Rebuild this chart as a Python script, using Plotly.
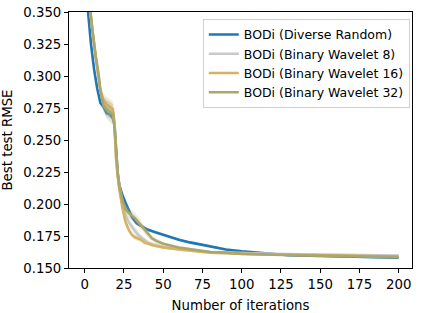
import plotly.graph_objects as go

# ---- data ----
names = ["BODi (Diverse Random)", "BODi (Binary Wavelet 8)",
         "BODi (Binary Wavelet 16)", "BODi (Binary Wavelet 32)"]

x_blue = [1, 2, 4, 6, 8, 10, 12, 14, 16, 18, 19, 20, 21, 22, 24, 26, 28, 30, 33, 36,
          40, 45, 50, 55, 60, 67, 75, 80, 90, 100, 110, 120, 130, 150, 175, 200]
y_blue = [0.370, 0.352, 0.325, 0.305, 0.290, 0.279, 0.276, 0.271, 0.270, 0.267, 0.262,
          0.240, 0.224, 0.215, 0.207, 0.201, 0.196, 0.190, 0.185, 0.183, 0.180, 0.178,
          0.176, 0.174, 0.172, 0.170, 0.168, 0.1665, 0.1645, 0.163, 0.162, 0.161, 0.160,
          0.1595, 0.159, 0.158]
e_blue = [0.006, 0.005, 0.004, 0.004, 0.003, 0.003, 0.003, 0.003, 0.003, 0.003, 0.003,
          0.003, 0.003, 0.002, 0.002, 0.002, 0.002, 0.002, 0.001, 0.001, 0.001, 0.001,
          0.001, 0.001, 0.001, 0.001, 0.001, 0.001, 0.001, 0.001, 0.001, 0.001, 0.001,
          0.001, 0.001, 0.001]

x_w = [1, 3, 5, 7, 9, 10, 12, 14, 16, 18, 19, 20, 21, 22, 24, 26, 28, 30, 32, 34, 36,
       38, 40, 43, 46, 50, 60, 70, 80, 90, 100, 120, 150, 175, 200]
y_w8 = [0.380, 0.355, 0.334, 0.314, 0.299, 0.288, 0.279, 0.276, 0.274, 0.272, 0.262,
        0.236, 0.223, 0.213, 0.200, 0.191, 0.186, 0.182, 0.179, 0.176, 0.174, 0.172,
        0.170, 0.1685, 0.1675, 0.1665, 0.165, 0.1635, 0.1625, 0.162, 0.1615, 0.161,
        0.1605, 0.160, 0.1598]
e_w8 = [0.008, 0.007, 0.006, 0.006, 0.005, 0.005, 0.005, 0.006, 0.006, 0.006, 0.006,
        0.005, 0.004, 0.004, 0.003, 0.003, 0.003, 0.003, 0.003, 0.003, 0.002, 0.002,
        0.002, 0.002, 0.001, 0.001, 0.001, 0.001, 0.001, 0.001, 0.001, 0.001, 0.001,
        0.001, 0.001]
y_w16 = [0.380, 0.355, 0.335, 0.315, 0.300, 0.289, 0.281, 0.278, 0.276, 0.274, 0.263,
         0.235, 0.222, 0.212, 0.197, 0.186, 0.180, 0.176, 0.174, 0.173, 0.172, 0.170,
         0.169, 0.168, 0.167, 0.166, 0.1645, 0.163, 0.162, 0.1615, 0.161, 0.1605,
         0.160, 0.1595, 0.159]
e_w16 = [0.008, 0.007, 0.006, 0.006, 0.005, 0.005, 0.005, 0.006, 0.006, 0.006, 0.006,
         0.005, 0.004, 0.004, 0.003, 0.003, 0.002, 0.002, 0.002, 0.002, 0.002, 0.002,
         0.001, 0.001, 0.001, 0.001, 0.001, 0.001, 0.001, 0.001, 0.001, 0.001, 0.001,
         0.001, 0.001]
y_w32 = [0.380, 0.356, 0.335, 0.316, 0.300, 0.288, 0.277, 0.274, 0.272, 0.270, 0.260,
         0.237, 0.225, 0.215, 0.203, 0.196, 0.193, 0.191, 0.189, 0.186, 0.183, 0.180,
         0.177, 0.173, 0.171, 0.169, 0.166, 0.164, 0.1625, 0.162, 0.161, 0.1603, 0.1595,
         0.159, 0.1585]
e_w32 = [0.008, 0.007, 0.006, 0.006, 0.005, 0.005, 0.006, 0.007, 0.008, 0.008, 0.007,
         0.006, 0.005, 0.005, 0.004, 0.004, 0.004, 0.004, 0.004, 0.004, 0.003, 0.003,
         0.003, 0.002, 0.002, 0.001, 0.001, 0.001, 0.001, 0.001, 0.001, 0.001, 0.001,
         0.001, 0.001]

x_ticks = [0, 25, 50, 75, 100, 125, 150, 175, 200]
y_ticks = [0.150, 0.175, 0.200, 0.225, 0.250, 0.275, 0.300, 0.325, 0.350]

colors = ["#1f77b4", "#c8c9c9", "#d6b264", "#aca66a"]
bands = ["rgba(31,119,180,0.2)", "rgba(190,190,190,0.25)",
         "rgba(214,178,100,0.25)", "rgba(172,166,106,0.25)"]

series = [(x_blue, y_blue, e_blue), (x_w, y_w8, e_w8), (x_w, y_w16, e_w16), (x_w, y_w32, e_w32)]

fig = go.Figure()
for (xs, ys, es), name, c, b in zip(series, names, colors, bands):
    up = [y + e for y, e in zip(ys, es)]
    lo = [y - e for y, e in zip(ys, es)]
    fig.add_trace(go.Scatter(x=xs, y=up, mode="lines", line=dict(width=0),
                             showlegend=False, hoverinfo="skip"))
    fig.add_trace(go.Scatter(x=xs, y=lo, mode="lines", line=dict(width=0),
                             fill="tonexty", fillcolor=b, showlegend=False, hoverinfo="skip"))
    fig.add_trace(go.Scatter(x=xs, y=ys, mode="lines", name=name,
                             line=dict(color=c, width=2.6)))

axis_common = dict(showline=True, linecolor="black", linewidth=1, mirror=True,
                   ticks="outside", ticklen=4, tickcolor="black", showgrid=False,
                   zeroline=False, automargin=False,
                   tickfont=dict(size=13.3, color="black"))

fig.update_layout(
    width=421, height=313,
    margin=dict(l=69, r=9, t=12, b=45),
    paper_bgcolor="white", plot_bgcolor="white",
    font=dict(family="DejaVu Sans", color="black"),
    xaxis=dict(range=[-10, 208.5], tickvals=x_ticks, ticktext=[str(t) for t in x_ticks],
               title=dict(text="Number of iterations", font=dict(size=13.3)),
               **axis_common),
    yaxis=dict(range=[0.150, 0.350], tickvals=y_ticks,
               ticktext=["%.3f" % t for t in y_ticks],
               title=dict(text="Best test RMSE", font=dict(size=13.3)),
               **axis_common),
    legend=dict(x=0.39, y=0.973, xanchor="left", yanchor="top", traceorder="normal",
                bgcolor="rgba(255,255,255,0.8)", bordercolor="#d0d0d0", borderwidth=1,
                font=dict(size=12.5), tracegroupgap=0, itemwidth=30),
    showlegend=True,
)

# remove the browser's default body margin so the figure fills the window
fig.write_html("out.html", config={"displayModeBar": False},
               post_script="document.body.style.margin='0';document.body.style.overflow='hidden';")
